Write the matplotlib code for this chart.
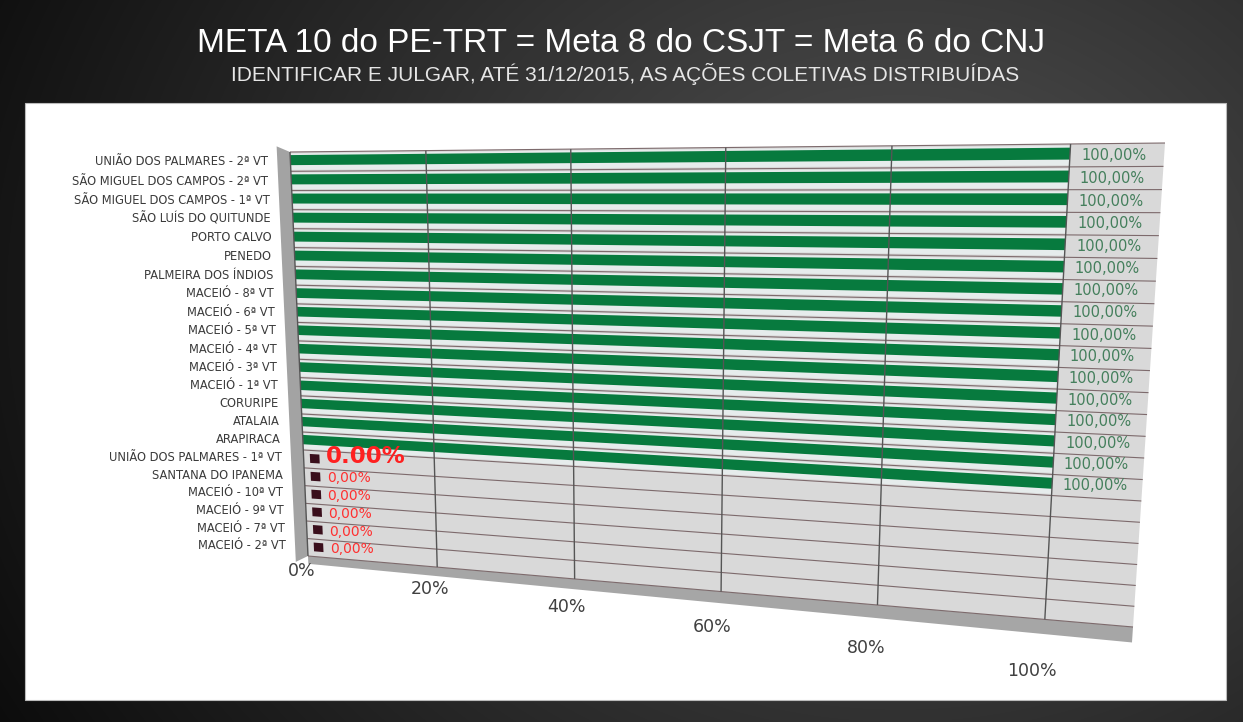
import numpy as np
import matplotlib
matplotlib.use("Agg")
import matplotlib.pyplot as plt
from matplotlib.transforms import Transform
from matplotlib.patches import Rectangle, Polygon

# dados
categorias = [
    "UNIÃO DOS PALMARES - 2ª VT", "SÃO MIGUEL DOS CAMPOS - 2ª VT",
    "SÃO MIGUEL DOS CAMPOS - 1ª VT", "SÃO LUÍS DO QUITUNDE", "PORTO CALVO",
    "PENEDO", "PALMEIRA DOS ÍNDIOS", "MACEIÓ - 8ª VT", "MACEIÓ - 6ª VT",
    "MACEIÓ - 5ª VT", "MACEIÓ - 4ª VT", "MACEIÓ - 3ª VT", "MACEIÓ - 1ª VT",
    "CORURIPE", "ATALAIA", "ARAPIRACA", "UNIÃO DOS PALMARES - 1ª VT",
    "SANTANA DO IPANEMA", "MACEIÓ - 10ª VT", "MACEIÓ - 9ª VT",
    "MACEIÓ - 7ª VT", "MACEIÓ - 2ª VT",
]
valores = [1.00, 1.00, 1.00, 1.00, 1.00, 1.00, 1.00, 1.00, 1.00, 1.00, 1.00,
           1.00, 1.00, 1.00, 1.00, 1.00, 0.00, 0.00, 0.00, 0.00, 0.00, 0.00]
ticks = [0.0, 0.2, 0.4, 0.6, 0.8, 1.0]
tick_labels = ["0%", "20%", "40%", "60%", "80%", "100%"]

titulo = "META 10 do PE-TRT = Meta 8 do CSJT = Meta 6 do CNJ"
subtitulo = "IDENTIFICAR E JULGAR, ATÉ 31/12/2015, AS AÇÕES COLETIVAS DISTRIBUÍDAS"

W, H = 1243, 722
N = len(categorias)
UMAX = 1.1


class Persp(Transform):
    # homografia simples para imitar o grafico 3D do Excel
    input_dims = 2
    output_dims = 2
    is_separable = False

    def __init__(self, M):
        super().__init__()
        self.M = M

    def transform_non_affine(self, xy):
        xy = np.asarray(xy, float).reshape(-1, 2)
        p = np.column_stack([xy, np.ones(len(xy))]) @ self.M.T
        return p[:, :2] / p[:, 2:3]


def homografia(src, dst):
    A, b = [], []
    for (x, y), (X, Y) in zip(src, dst):
        A.append([x, y, 1, 0, 0, 0, -X * x, -X * y]); b.append(X)
        A.append([0, 0, 0, x, y, 1, -Y * x, -Y * y]); b.append(Y)
    h = np.linalg.solve(np.array(A, float), np.array(b, float))
    return np.append(h, 1).reshape(3, 3)


fig = plt.figure(figsize=(W / 100, H / 100), dpi=100)

# fundo do slide
bg = fig.add_axes([0, 0, 1, 1])
yy, xx = np.mgrid[0:H, 0:W]
d = np.hypot(xx - 900, (yy - 300) * 1.2)
lum = 0.03 + 0.30 * np.clip(1 - d / 1100, 0, 1)
bg.imshow(np.dstack([lum, lum, lum]), extent=[0, W, H, 0], aspect="auto")
bg.set_xlim(0, W)
bg.set_ylim(H, 0)
bg.axis("off")

ax = fig.add_axes([0, 0, 1, 1])
ax.set_xlim(0, W)
ax.set_ylim(H, 0)
ax.axis("off")
ax.patch.set_alpha(0)

ax.add_patch(Rectangle((25, 103), 1201, 597, facecolor="white", edgecolor="#bbbbbb", lw=0.8))

ax.text(621, 44, titulo, color="white", fontsize=24, ha="center", va="center",
        family="Liberation Sans")
ax.text(625, 74, subtitulo, color="#e6e6e6", fontsize=15, ha="center", va="center",
        family="Liberation Sans")

M = homografia([(0, 0), (UMAX, 0), (UMAX, N), (0, N)],
               [(290, 152), (1165, 143), (1133, 627), (308, 556)])
tr = Persp(M) + ax.transData

# piso, parede e borda
ax.add_patch(Polygon([(0, 0), (UMAX, 0), (UMAX, N), (0, N)], closed=True,
                     facecolor="#d9d9d9", edgecolor="none", transform=tr))
ax.add_patch(Polygon([(-0.02, -0.3), (0, 0), (0, N), (-0.02, N + 0.4)], closed=True,
                     facecolor="#a3a3a3", edgecolor="none", transform=tr))
ax.add_patch(Polygon([(0, N), (UMAX, N), (UMAX, N + 0.75), (0, N + 0.45)], closed=True,
                     facecolor="#a6a6a6", edgecolor="none", transform=tr))

pos = np.arange(N)
ax.barh(pos + 0.5, valores, height=0.85, left=0, color="#e6ecec", transform=tr)
ax.barh(pos + 0.42, valores, height=0.52, left=0, color="#077a3e", transform=tr)
zero = [i for i, v in enumerate(valores) if v == 0]
ax.barh(pos[zero] + 0.45, [0.015] * len(zero), height=0.5,
        left=[valores[i] + 0.01 for i in zero], color="#3a0f1c", transform=tr)

ax.hlines(np.arange(N + 1), 0, UMAX, colors="#7d6a6c", lw=0.8, transform=tr)
ax.vlines(ticks, 0, N, colors="#555555", lw=1.0, transform=tr)

for i, (cat, v) in enumerate(zip(categorias, valores)):
    ax.text(-0.035, i + 0.5, cat, ha="right", va="center", fontsize=8.3,
            color="#3a3a3a", transform=tr)
    rotulo = f"{v * 100:.2f}%".replace(".", ",")
    if v > 0:
        ax.text(1.012, i + 0.5, rotulo, ha="left", va="center", fontsize=10.5,
                color="#447f5c", transform=tr)
    elif i == zero[0]:
        ax.text(0.035, i + 0.3, rotulo.replace(",", "."), ha="left", va="center",
                fontsize=16.5, fontweight="bold", color="#ff2020", transform=tr)
    else:
        ax.text(0.035, i + 0.5, rotulo, ha="left", va="center", fontsize=10,
                color="#ff3030", transform=tr)

for t, lab in zip(ticks, tick_labels):
    ax.text(t - 0.012, N + 0.9 + 1.7 * t, lab, ha="center", va="center",
            fontsize=12.5, color="#404040", transform=tr)

ax.set_xlim(0, W)
ax.set_ylim(H, 0)

fig.savefig("out.png", dpi=100)
